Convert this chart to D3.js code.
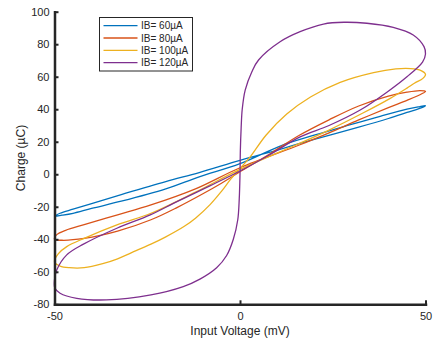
<!DOCTYPE html>
<html>
<head>
<meta charset="utf-8">
<script src="https://cdn.jsdelivr.net/npm/d3@7"></script>
<style>
  html, body { margin: 0; padding: 0; background: #fff; }
  svg { display: block; font-family: "Liberation Sans", Arial, Helvetica, sans-serif; }
  .axis path, .axis line { stroke: #262626; }
  .axis text { fill: #262626; font-size: 11px; }
</style>
</head>
<body>
<svg id="chart"></svg>
<script>
// legend labels and series colours (MATLAB default order)
var labels = ['IB= 60µA', 'IB= 80µA', 'IB= 100µA', 'IB= 120µA'];
var colors = ['#0072BD', '#D95319', '#EDB120', '#7E2F8E'];

var xTicks = [-50, 0, 50];
var yTicks = [-80, -60, -40, -20, 0, 20, 40, 60, 80, 100];

// each loop: [voltage mV, charge µC], traced round once (first point = last point)
var ib60 = [
  [-50, -25.8], [-48, -25.2], [-45, -24], [-40, -21], [-32, -16.6], [-20, -9], [-11, -1.6],
  [0, 6.5], [11, 17.5], [20, 24], [29, 30], [38, 35.8], [45, 40], [48.5, 41.6], [50, 42.2],
  [49, 41], [45, 38], [40, 34.3], [32, 29], [20, 21.5], [11, 15.5], [0, 8.5], [-11, 1],
  [-20, -4.5], [-32, -12.5], [-40, -18], [-45, -21.5], [-48.5, -24], [-50, -25.8]
];

var ib80 = [
  [-50, -40], [-48, -40.6], [-42, -39.5], [-33, -35], [-24, -28], [-17, -20.5], [-10, -12],
  [-5, -5.5], [0, 1.5], [8, 12.5], [16, 24], [24, 33.5], [32, 42], [40, 48], [45, 50.5],
  [48.5, 51.5], [50, 51],
  [49, 49.5], [45, 45.5], [40, 41], [32, 33.4], [24, 25.5], [16, 18], [0, 4], [-12, -9],
  [-24, -18.9], [-33, -25], [-42, -31], [-47, -34.5], [-49.3, -37], [-50, -40]
];

var ib100 = [
  [-50, -54], [-48.5, -56.5], [-46, -57.5], [-42, -57.5], [-37, -55], [-33, -52], [-28, -47],
  [-24, -43], [-20, -38.5], [-15, -32], [-12, -27], [-8, -18.5], [-5, -10.5], [-2.5, -3],
  [0, 3.5], [2.7, 10.5], [7, 24], [12.6, 37], [19, 47.5], [27, 56.5], [36, 62.5], [42, 64.8],
  [46, 65], [48.8, 63.8], [50, 61.5],
  [49.3, 59], [47, 56], [45, 53], [40.5, 46.7], [33, 37.5], [24, 27.2], [15, 18], [0, 3],
  [-12, -11], [-24, -24], [-33, -31], [-42, -39.4], [-46.7, -44.5], [-49, -49], [-50, -54]
];

var ib120 = [
  [-50, -65], [-49.9, -70], [-48.5, -73.2], [-44, -76.3], [-36, -77.3], [-24, -74.2],
  [-15.3, -69.1], [-10.8, -64.5], [-6.3, -57.5], [-3.6, -50], [-1.8, -40], [-0.6, -28],
  [-0.2, -15], [0, 0], [0.1, 15], [0.3, 28], [0.6, 40], [1.4, 51.8], [3.2, 63.1], [5, 70.3],
  [10.8, 81.5], [16.2, 87.7], [22.5, 92.4], [28, 93.5], [34.2, 92.9], [41.3, 90.4],
  [46.7, 85.7], [49.6, 78.5], [50, 74],
  [49.2, 69], [45, 60], [39.6, 50.5], [32.4, 39.5], [24, 30], [16.2, 23], [8, 12], [0, 2],
  [-8, -7], [-17, -16.8], [-24.2, -25], [-33.2, -33.2], [-42.2, -43], [-46.7, -49.6],
  [-49.4, -58.9], [-50, -65]
];

var loops = [ib60, ib80, ib100, ib120];

var size = { width: 435, height: 340, margin: { top: 11.7, right: 9.5, bottom: 35.7, left: 54.5 } };
var margin = size.margin;
var width = size.width - margin.left - margin.right;
var height = size.height - margin.top - margin.bottom;

var x = d3.scaleLinear().domain([-50, 50]).range([0, width]);
var y = d3.scaleLinear().domain([-80, 100]).range([height, 0]);

var svg = d3.select('#chart')
  .attr('width', size.width)
  .attr('height', size.height);

var chart = svg.append('g')
  .attr('transform', `translate(${ margin.left }, ${ margin.top })`);

var line = d3.line()
  .x(d => x(d[0]))
  .y(d => y(d[1]))
  .curve(d3.curveCatmullRomClosed.alpha(0.5));

chart.selectAll('.loop')
  .data(loops)
  .enter().append('path')
  .attr('class', 'loop')
  .attr('d', d => line(d.slice(0, -1)))
  .attr('fill', 'none')
  .attr('stroke', (d, i) => colors[i])
  .attr('stroke-width', 1.3)
  .attr('stroke-linejoin', 'round');

// axes, ticks pointing inward like matlab
var xAxis = d3.axisBottom(x).tickValues(xTicks).tickSizeInner(-4).tickSizeOuter(0)
  .tickPadding(8).tickFormat(d => String(d));
var yAxis = d3.axisLeft(y).tickValues(yTicks).tickSizeInner(-4).tickSizeOuter(0)
  .tickPadding(5).tickFormat(d => String(d));

var gx = chart.append('g')
  .attr('class', 'axis x')
  .attr('transform', `translate(0, ${ height })`)
  .call(xAxis);

var gy = chart.append('g')
  .attr('class', 'axis y')
  .call(yAxis);

gx.select('.domain').attr('stroke-width', 2.5).attr('stroke-linecap', 'square');
gy.select('.domain').attr('stroke-width', 2.5).attr('stroke-linecap', 'square');
gx.selectAll('.tick line').attr('stroke-width', 2);
gy.selectAll('.tick line').attr('stroke-width', 2);

svg.append('text')
  .attr('x', margin.left + width / 2)
  .attr('y', 334.5)
  .attr('text-anchor', 'middle')
  .attr('font-size', '12px')
  .attr('fill', '#262626')
  .text('Input Voltage (mV)');

svg.append('text')
  .attr('transform', `translate(25, ${ margin.top + height / 2 }) rotate(-90)`)
  .attr('text-anchor', 'middle')
  .attr('font-size', '12px')
  .attr('fill', '#262626')
  .text('Charge (µC)');

// legend
var legend = svg.append('g').attr('transform', 'translate(99.5, 17.5)');

legend.append('rect')
  .attr('width', 93)
  .attr('height', 53.5)
  .attr('fill', '#fff')
  .attr('stroke', '#262626')
  .attr('stroke-width', 1);

var item = legend.selectAll('.item')
  .data(labels)
  .enter().append('g')
  .attr('class', 'item')
  .attr('transform', (d, i) => `translate(0, ${ 8.2 + i * 12.3 })`);

item.append('line')
  .attr('x1', 4)
  .attr('x2', 38)
  .attr('stroke', (d, i) => colors[i])
  .attr('stroke-width', 1.3);

item.append('text')
  .attr('x', 41.5)
  .attr('y', 3.6)
  .attr('font-size', '10px')
  .attr('fill', '#262626')
  .text(d => d);
</script>
</body>
</html>
